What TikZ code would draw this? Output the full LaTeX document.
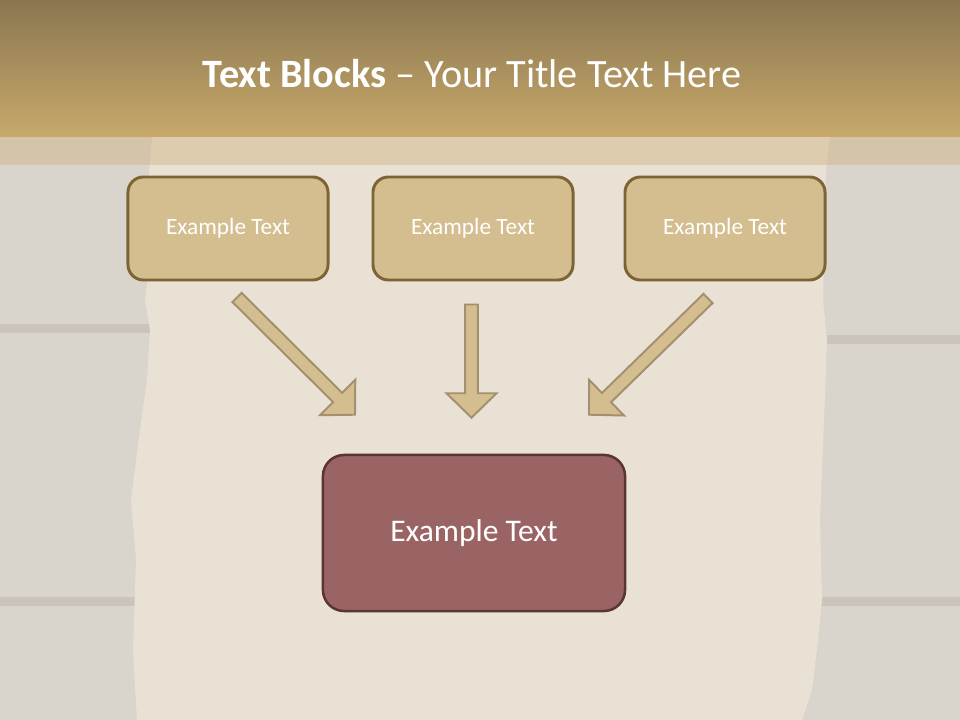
\documentclass[tikz,border=0pt]{standalone}
\usepackage{fontspec}
\setmainfont{Carlito}
\usepackage{tikz}
\usetikzlibrary{arrows.meta, positioning, calc, shapes}
\definecolor{boardgray}{RGB}{217, 212, 204}
\definecolor{plankline}{RGB}{202, 196, 186}
\definecolor{paper}{RGB}{233, 225, 211}
\definecolor{titletop}{RGB}{138, 118, 80}
\definecolor{titlebot}{RGB}{200, 169, 107}
\definecolor{boxfill}{RGB}{212, 189, 143}
\definecolor{boxedge}{RGB}{125, 100, 52}
\definecolor{arrowedge}{RGB}{163, 144, 112}
\definecolor{resfill}{RGB}{155, 100, 100}
\definecolor{resedge}{RGB}{91, 52, 52}

\tikzset{
    topbox/.style={draw=boxedge, line width=2.1pt, fill=boxfill, rounded corners=11pt,
        minimum width=5cm, minimum height=2.575cm, text=white,
        font=\fontsize{16.6}{20}\selectfont},
    resbox/.style={draw=resedge, line width=1.8pt, fill=resfill, rounded corners=15pt,
        minimum width=7.55cm, minimum height=3.9cm, text=white,
        font=\fontsize{22.4}{27}\selectfont},
    blockarr/.style={draw=arrowedge, line width=1.4pt, fill=boxfill, line join=miter}
}

% block arrow from tail #1 to tip #2
\newcommand{\blockarrow}[2]{%
    \coordinate (hb) at ($(#2)!17.4pt!(#1)$);
    \draw[blockarr] ($(#1)!4.6pt!90:(#2)$) -- ($(hb)!4.6pt!90:(#2)$) -- ($(hb)!17.8pt!90:(#2)$)
        -- (#2) -- ($(hb)!17.8pt!-90:(#2)$) -- ($(hb)!4.6pt!-90:(#2)$) -- ($(#1)!4.6pt!-90:(#2)$) -- cycle;
}

\begin{document}
\begin{tikzpicture}[x=0.025cm, y=-0.025cm]
    \useasboundingbox (0,0) rectangle (960,720);

    % Wooden board
    \fill[boardgray] (0,0) rectangle (960,720);
    \fill[plankline] (0,324) rectangle (160,333);
    \fill[plankline] (800,335) rectangle (960,344);
    \fill[plankline] (0,597) rectangle (160,606);
    \fill[plankline] (800,597) rectangle (960,606);

    % Parchment
    \fill[paper] (152,137) -- (830,137) -- (826,170) -- (823,300) -- (827,340) -- (824,420)
        -- (820,520) -- (822,600) -- (818,640) -- (812,690) -- (802,720) -- (137,720)
        -- (133,650) -- (136,560) -- (131,500) -- (140,430) -- (147,380) -- (150,330)
        -- (145,300) -- (151,250) -- (147,200) -- cycle;

    % Title bar
    \shade[top color=titletop, bottom color=titlebot] (0,0) rectangle (960,137);
    \fill[titlebot, opacity=0.35] (0,137) rectangle (960,165);
    \node[anchor=base, text=white, font=\fontsize{28.6}{33}\selectfont] (title) at (472,88)
        {\textbf{Text Blocks} – Your Title Text Here};

    % Blocks
    \node[topbox] (ex1) at (228,228.5) {Example Text};
    \node[topbox] (ex2) at (473,228.5) {Example Text};
    \node[topbox] (ex3) at (725,228.5) {Example Text};
    \node[resbox] (res) at (474,533) {Example Text};

    % Arrows
    \coordinate (t1) at ($(ex1.south)+(9,16)$);
    \coordinate (h1) at ($(res.north)+(-119,-39)$);
    \coordinate (t2) at ($(ex2.south)+(-1.5,23)$);
    \coordinate (h2) at ($(res.north)+(-2.5,-36)$);
    \coordinate (t3) at ($(ex3.south)+(-17,17)$);
    \coordinate (h3) at ($(res.north)+(115,-39)$);
    \blockarrow{t1}{h1}
    \blockarrow{t2}{h2}
    \blockarrow{t3}{h3}
\end{tikzpicture}
\end{document}
